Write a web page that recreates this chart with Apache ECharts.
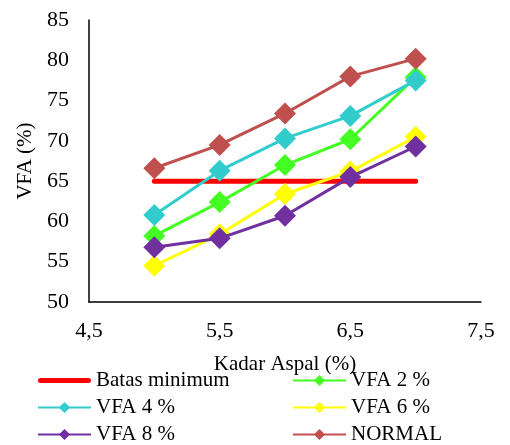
<!DOCTYPE html>
<html><head><meta charset="utf-8">
<script src="https://cdn.jsdelivr.net/npm/echarts@6/dist/echarts.min.js"></script>
<style>html,body{margin:0;padding:0;background:#fff}#c{width:510px;height:445px}</style>
</head><body><div id="c"></div>
<script>
const xValues = [5, 5.5, 6, 6.5, 7];
const batasMinimum = [65, 65, 65, 65, 65];
const vfa2 = [58.2, 62.4, 67.0, 70.2, 77.9];
const vfa4 = [60.8, 66.3, 70.3, 73.1, 77.5];
const vfa6 = [54.5, 58.4, 63.4, 66.2, 70.5];
const vfa8 = [56.8, 57.9, 60.7, 65.5, 69.3];
const normal = [66.6, 69.5, 73.4, 78.0, 80.2];
const seriesNames = ['Batas minimum', 'VFA 2 %', 'VFA 4 %', 'VFA 6 %', 'VFA 8 %', 'NORMAL'];
const colors = ['#FF0000', '#44FF22', '#33CCCC', '#FFFF00', '#7030A0', '#C0504D'];
const allData = [batasMinimum, vfa2, vfa4, vfa6, vfa8, normal];

const font = 'Liberation Serif';
const chart = echarts.init(document.getElementById('c'), null, {renderer: 'canvas'});

const series = seriesNames.map((name, i) => {
  const pts = xValues.map((x, j) => [x, allData[i][j]]);
  if (i === 0) {
    return {name, type: 'line', data: pts, symbol: 'none', color: colors[i],
      lineStyle: {width: 5, color: colors[i], cap: 'round'}, z: 1};
  }
  return {name, type: 'line', data: pts, symbol: 'diamond', symbolSize: 22,
    color: colors[i], itemStyle: {color: colors[i]},
    lineStyle: {width: 3, color: colors[i]}, z: 2 + i};
});

const legendCommon = {
  orient: 'vertical', itemWidth: 53, itemHeight: 14, itemGap: 6, padding: 0,
  textStyle: {fontFamily: font, fontSize: 21, color: '#000', lineHeight: 20}
};

chart.setOption({
  animation: false,
  grid: {left: 89, right: 29, top: 20, bottom: 143},
  xAxis: {
    type: 'value', min: 4.5, max: 7.5, interval: 1,
    name: 'Kadar Aspal (%)', nameLocation: 'middle', nameGap: 52,
    nameTextStyle: {fontFamily: font, fontSize: 21, color: '#000'},
    axisLine: {show: true, lineStyle: {color: '#000', width: 1.5}},
    axisTick: {show: false}, splitLine: {show: false},
    axisLabel: {fontFamily: font, fontSize: 22, color: '#000', margin: 18,
      formatter: v => String(v).replace('.', ',')}
  },
  yAxis: {
    type: 'value', min: 50, max: 85, interval: 5,
    name: 'VFA (%)', nameLocation: 'middle', nameGap: 51, nameRotate: 90,
    nameTextStyle: {fontFamily: font, fontSize: 21, color: '#000'},
    axisLine: {show: true, lineStyle: {color: '#000', width: 1.5}},
    axisTick: {show: false}, splitLine: {show: false},
    axisLabel: {fontFamily: font, fontSize: 22, color: '#000', margin: 20}
  },
  legend: [
    Object.assign({}, legendCommon, {left: 37, top: 370, data: [
      {name: 'Batas minimum', icon: 'path://M2.5,0 L50.5,0 A2.5,2.5 0 0 1 50.5,5 L2.5,5 A2.5,2.5 0 0 1 2.5,0 Z',
       itemStyle: {color: '#FF0000'}},
      'VFA 4 %', 'VFA 8 %']}),
    Object.assign({}, legendCommon, {left: 292, top: 370, data: ['VFA 2 %', 'VFA 6 %', 'NORMAL']})
  ],
  series
});
</script></body></html>
